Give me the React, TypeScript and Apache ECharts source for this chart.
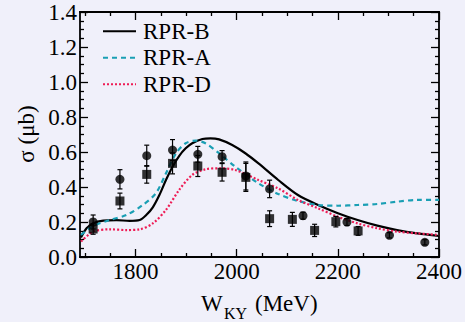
import React, { useEffect, useRef } from "react";
import * as echarts from "echarts";

// ---- data ----
const rprB: [number, number][] = [
  [1692, 0.112], [1703, 0.164], [1716, 0.193], [1736, 0.208], [1762, 0.211], [1788, 0.206],
  [1808, 0.211], [1821, 0.24], [1834, 0.284], [1847, 0.354], [1860, 0.44], [1873, 0.516],
  [1886, 0.577], [1899, 0.621], [1912, 0.65], [1932, 0.674], [1948, 0.678], [1965, 0.672],
  [1991, 0.64], [2017, 0.593], [2043, 0.535], [2082, 0.44], [2121, 0.354], [2161, 0.297],
  [2200, 0.25], [2239, 0.211], [2278, 0.179], [2317, 0.154], [2357, 0.135], [2400, 0.12],
];
const rprA: [number, number][] = [
  [1692, 0.126], [1716, 0.177], [1749, 0.211], [1782, 0.24], [1814, 0.297], [1840, 0.364],
  [1860, 0.478], [1880, 0.593], [1899, 0.65], [1919, 0.665], [1938, 0.65], [1965, 0.593],
  [1997, 0.516], [2043, 0.421], [2082, 0.36], [2121, 0.32], [2161, 0.297], [2200, 0.293],
  [2239, 0.297], [2278, 0.303], [2317, 0.316], [2357, 0.326], [2400, 0.326],
];
const rprD: [number, number][] = [
  [1692, 0.088], [1716, 0.145], [1749, 0.158], [1782, 0.154], [1808, 0.158], [1834, 0.192],
  [1860, 0.269], [1886, 0.383], [1912, 0.469], [1938, 0.501], [1965, 0.507], [1997, 0.497],
  [2043, 0.44], [2082, 0.392], [2121, 0.326], [2161, 0.278], [2200, 0.23], [2239, 0.192],
  [2278, 0.164], [2317, 0.145], [2357, 0.135], [2400, 0.126],
];

const circleW = [1716, 1769, 1822, 1873, 1923, 1971, 2018, 2065, 2131, 2218, 2302, 2372];
const circleS = [0.2, 0.444, 0.579, 0.611, 0.587, 0.573, 0.463, 0.389, 0.236, 0.2, 0.124, 0.084];
const circleE = [0.04, 0.055, 0.06, 0.06, 0.045, 0.035, 0.08, 0.05, 0.02, 0.02, 0.015, 0.015];

const squareW = [1716, 1769, 1822, 1873, 1923, 1971, 2018, 2065, 2110, 2154, 2196, 2240];
const squareS = [0.16, 0.32, 0.472, 0.535, 0.52, 0.484, 0.455, 0.219, 0.215, 0.152, 0.202, 0.149];
const squareE = [0.03, 0.045, 0.05, 0.06, 0.06, 0.05, 0.08, 0.045, 0.04, 0.035, 0.03, 0.025];

const xMajor = [1800, 2000, 2200, 2400];
const xMinor = [1700, 1750, 1850, 1900, 1950, 2050, 2100, 2150, 2250, 2300, 2350];
const xMin = 1690;
const xMax = 2400;

const FONT = "Liberation Serif";

export default function App() {
  const ref = useRef<HTMLDivElement>(null);
  useEffect(() => {
    if (!ref.current) return;
    const chart = echarts.init(ref.current, null, { renderer: "svg" });

    const errData = (w: number[], s: number[], e: number[]) =>
      w.map((x, i) => [x, s[i] - e[i], s[i] + e[i]]);

    const errRender = (params: any, api: any) => {
      const x = api.value(0);
      const p1 = api.coord([x, api.value(2)]);
      const p2 = api.coord([x, api.value(1)]);
      const cw = 2.5;
      const st = { stroke: "#000", lineWidth: 1.2 };
      return {
        type: "group",
        children: [
          { type: "line", shape: { x1: p1[0], y1: p1[1], x2: p2[0], y2: p2[1] }, style: st },
          { type: "line", shape: { x1: p1[0] - cw, y1: p1[1], x2: p1[0] + cw, y2: p1[1] }, style: st },
          { type: "line", shape: { x1: p2[0] - cw, y1: p2[1], x2: p2[0] + cw, y2: p2[1] }, style: st },
        ],
      };
    };

    const axisLine = { show: true, lineStyle: { color: "#000", width: 1.8 } };
    const xAxisBase = (pos: string, major: boolean, labels: boolean) => ({
      type: "value",
      position: pos,
      min: xMin,
      max: xMax,
      axisLine,
      splitLine: { show: false },
      axisTick: {
        show: true,
        inside: true,
        length: major ? 8 : 4,
        customValues: major ? xMajor : xMinor,
        lineStyle: { color: "#000", width: 1.3 },
      },
      axisLabel: labels
        ? {
            show: true,
            customValues: xMajor,
            fontFamily: FONT,
            fontSize: 23,
            color: "#000",
            margin: 3,
            formatter: (v: number) => String(v),
          }
        : { show: false },
    });
    const yAxisBase = (pos: string, labels: boolean) => ({
      type: "value",
      position: pos,
      min: 0,
      max: 1.4,
      interval: 0.2,
      axisLine,
      splitLine: { show: false },
      axisTick: { show: true, inside: true, length: 8, lineStyle: { color: "#000", width: 1.3 } },
      minorTick: { show: true, splitNumber: 4, length: 4, lineStyle: { color: "#000", width: 1.3 } },
      axisLabel: labels
        ? {
            show: true,
            fontFamily: FONT,
            fontSize: 23,
            color: "#000",
            margin: 3,
            formatter: (v: number) => v.toFixed(1),
          }
        : { show: false },
    });

    chart.setOption({
      animation: false,
      backgroundColor: "#f0f0fa",
      grid: { left: 80, right: 22, top: 12, bottom: 65 },
      xAxis: [
        xAxisBase("bottom", true, true),
        xAxisBase("bottom", false, false),
        xAxisBase("top", true, false),
        xAxisBase("top", false, false),
      ],
      yAxis: [yAxisBase("left", true), yAxisBase("right", false)],
      legend: {
        orient: "vertical",
        left: 102,
        top: 18,
        padding: 0,
        itemWidth: 33,
        itemHeight: 10,
        itemGap: 0,
        itemStyle: { opacity: 0 },
        data: ["RPR-B", "RPR-A", "RPR-D"],
        textStyle: { fontFamily: FONT, fontSize: 23, color: "#000", lineHeight: 26.5, padding: [0, 0, 0, 2] },
      },
      graphic: [
        {
          type: "text",
          x: 26,
          y: 134,
          rotation: Math.PI / 2,
          style: {
            text: "σ (μb)",
            fontFamily: FONT,
            fontSize: 23,
            fill: "#000",
            textAlign: "center",
            textVerticalAlign: "middle",
          },
        },
        {
          type: "text",
          x: 201,
          y: 303,
          style: { text: "W", fontFamily: FONT, fontSize: 23, fill: "#000", textVerticalAlign: "middle" },
        },
        {
          type: "text",
          x: 224,
          y: 313,
          style: { text: "KY", fontFamily: FONT, fontSize: 16, fill: "#000", textVerticalAlign: "middle" },
        },
        {
          type: "text",
          x: 255,
          y: 303,
          style: { text: "(MeV)", fontFamily: FONT, fontSize: 23, fill: "#000", textVerticalAlign: "middle" },
        },
      ],
      series: [
        {
          name: "RPR-B",
          type: "line",
          data: rprB,
          smooth: 0.3,
          symbol: "none",
          lineStyle: { color: "#000", width: 2.2 },
          itemStyle: { color: "#000" },
          z: 3,
        },
        {
          name: "RPR-A",
          type: "line",
          data: rprA,
          smooth: 0.3,
          symbol: "none",
          lineStyle: { color: "#1a9fb4", width: 2.2, type: [5, 4] },
          itemStyle: { color: "#1a9fb4" },
          z: 3,
        },
        {
          name: "RPR-D",
          type: "line",
          data: rprD,
          smooth: 0.3,
          symbol: "none",
          lineStyle: { color: "#ee1c55", width: 2.2, type: [2, 2] },
          itemStyle: { color: "#ee1c55" },
          z: 3,
        },
        {
          type: "custom",
          renderItem: errRender,
          data: errData(circleW, circleS, circleE),
          encode: { x: 0, y: [1, 2] },
          z: 4,
        },
        {
          type: "custom",
          renderItem: errRender,
          data: errData(squareW, squareS, squareE),
          encode: { x: 0, y: [1, 2] },
          z: 4,
        },
        {
          type: "scatter",
          data: circleW.map((w, i) => [w, circleS[i]]),
          symbol: "circle",
          symbolSize: 9,
          itemStyle: { color: "#000" },
          z: 5,
        },
        {
          type: "scatter",
          data: squareW.map((w, i) => [w, squareS[i]]),
          symbol: "rect",
          symbolSize: 9,
          itemStyle: { color: "#000" },
          z: 5,
        },
      ],
    });
    return () => chart.dispose();
  }, []);
  return (
    <div
      ref={ref}
      style={{ position: "fixed", left: 0, top: 0, width: 465, height: 322 }}
    />
  );
}
